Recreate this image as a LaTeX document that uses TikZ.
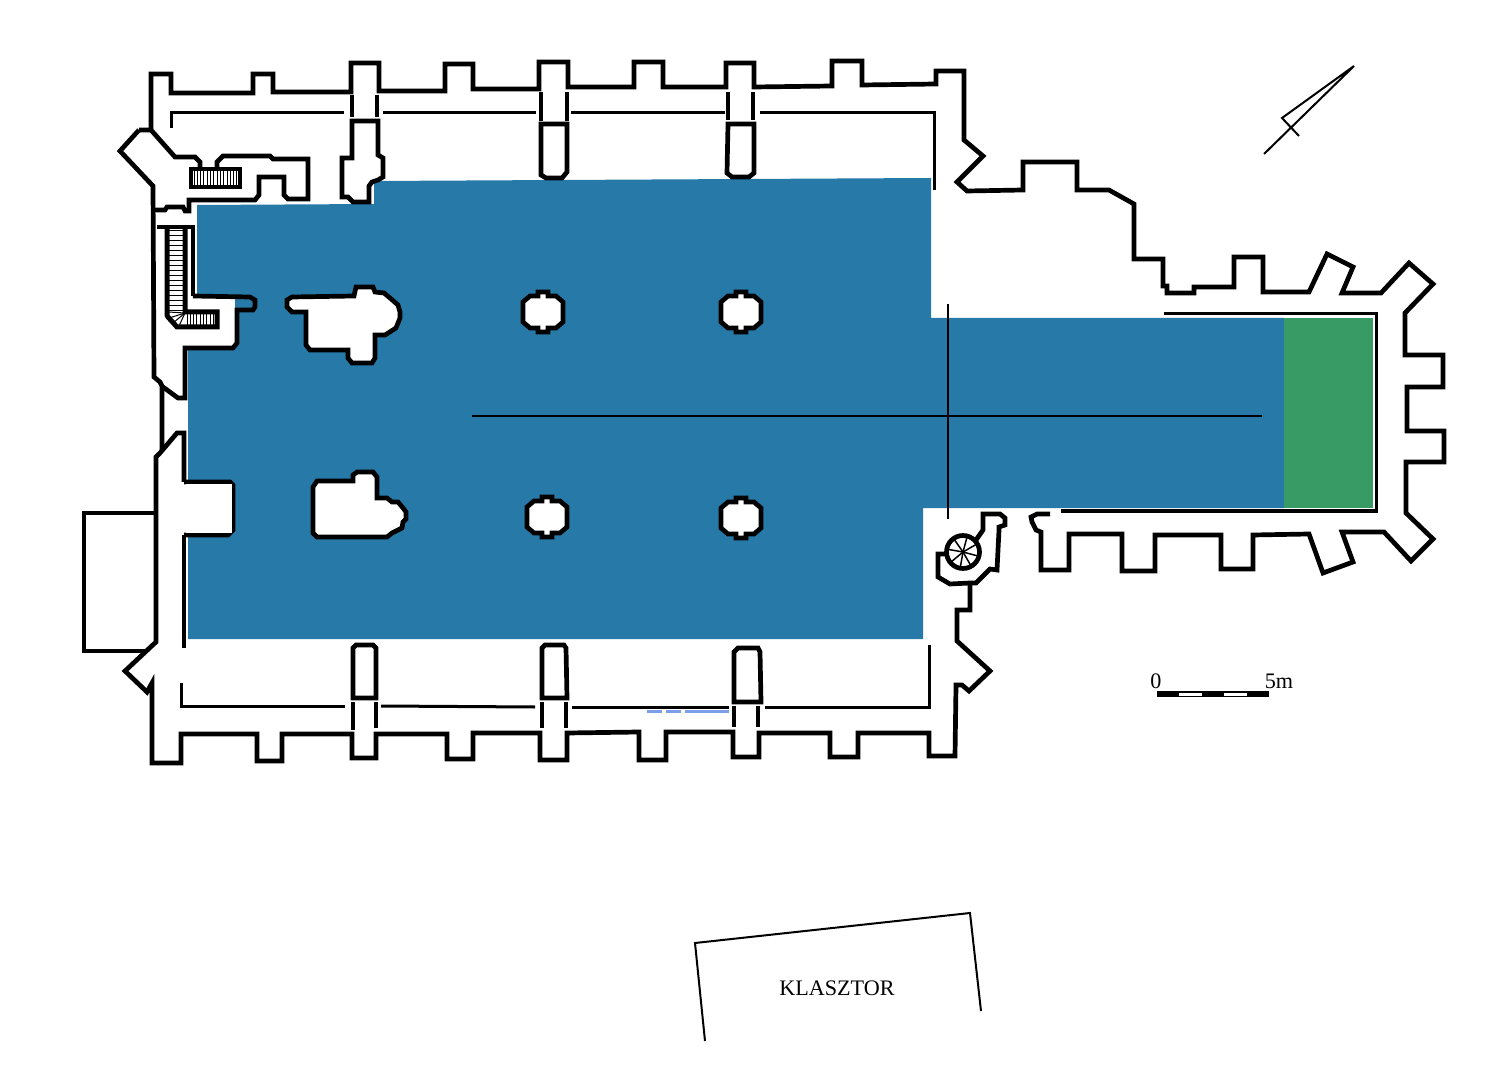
\documentclass[tikz,border=0pt]{standalone}
\usepackage{fontspec}
\setmainfont{Liberation Serif}
\definecolor{navecolor}{HTML}{2779A8}
\definecolor{choircolor}{HTML}{389B66}
\definecolor{dashcolor}{HTML}{7B9FE8}
\tikzset{
	wall/.style={line width=0.47mm,miter limit=6},
	innerwall/.style={line width=0.3mm},
	isle/.style={wall,fill=white},
	hatch/.style={line width=0.1mm},
	planlabel/.style={inner sep=0pt,font=\fontsize{6.3pt}{7pt}\selectfont},
}
\begin{document}
\begin{tikzpicture}[x=0.01cm,y=-0.01cm]
	\useasboundingbox (0,0) rectangle (1500,1067);
	% nave and choir
	\fill[navecolor] (197,205)--(374,204)--(374,181)--(931,178)--(931,318)--(1284,318)--(1284,508)--(923,508)--(923,639)--(188,639)--(188,348)--(197,348)--cycle;
	\fill[choircolor] (1284,318)--(1373,318)--(1373,508)--(1284,508)--cycle;
	% north wall
	\draw[wall] (139,130)--(151,130)--(151,74)--(171,74)--(171,93)--(253,93)--(253,74)--(273,74)--(273,92)--(351,92)--(351,63)--(379,63)--(379,91)--(445,91)--(445,64)--(473,64)--(473,89)--(539,89)--(539,62)--(568,62)--(568,87)--(634,87)--(634,62)--(663,62)--(663,87)--(726,87)--(726,63)--(754,63)--(754,87)--(832,86)--(832,61)--(862,61)--(862,85)--(936,84)--(936,71)--(964,71)--(964,140)--(983,156)--(957,182)--(967,191)--(1023,190)--(1023,162)--(1077,162)--(1077,190)--(1109,190)--(1134,204)--(1134,259)--(1163,259)--(1163,286)--(1167,286)--(1167,293)--(1194,293)--(1194,287)--(1234,287)--(1234,257)--(1263,257)--(1263,292)--(1309,292)--(1327,254)--(1353,267)--(1342,293)--(1381,293)--(1409,263)--(1433,284)--(1405,313)--(1405,355)--(1443,355)--(1443,387)--(1407,387)--(1407,431)--(1444,431)--(1444,462)--(1406,462)--(1406,513)--(1433,539)--(1411,561)--(1384,532)--(1342,532)--(1353,562)--(1323,573)--(1309,534)--(1253,535)--(1253,569)--(1221,569)--(1221,535)--(1155,535)--(1155,571)--(1122,571)--(1122,534)--(1069,534)--(1069,570)--(1041,570)--(1041,532)--(1036,530)--(1032,522)--(1031,517)--(1037,514)--(1050,514);
	% south wall
	\draw[wall] (970,583)--(970,610)--(957,610)--(957,641)--(990,671)--(969,691)--(962,685)--(956,685)--(955,756)--(929,756)--(929,733)--(858,733)--(858,757)--(830,757)--(830,733)--(759,733)--(759,757)--(733,757)--(733,732)--(666,732)--(666,760)--(639,760)--(639,732)--(567,733)--(567,760)--(540,760)--(540,733)--(473,733)--(473,759)--(447,759)--(447,734)--(376,734)--(376,758)--(352,758)--(352,734)--(282,734)--(282,761)--(257,761)--(257,734)--(181,734)--(181,763)--(152,763)--(152,683)--(147,692)--(125,671)--(156,642)--(156,457)--(160,453)--(177,433)--(184,433)--(184,482);
	\draw[wall] (184,535)--(184,648);
	% west porch
	\draw[wall] (156,513)--(84,513)--(84,651)--(145,651);
	% west wall with the stair block
	\draw[wall] (139,130)--(120,151)--(153,186)--(154,377)--(160,382)--(162,386)--(162,450);
	\draw[wall] (151,130)--(175,157)--(195,157)--(200,162)--(200,168);
	\draw[wall] (154,210)--(165,210)--(167,207)--(183,207)--(185,211)--(189,211)--(189,200)--(255,200)--(259,195)--(259,177)--(284,177)--(284,195)--(288,199)--(308,199)--(308,159)--(273,159)--(270,156)--(223,156)--(217,162)--(217,168);
	\draw[wall] (157,227)--(193,227)--(193,296);
	\fill[white] (186,297) rectangle (235,347);
	\draw[wall] (193,296)--(250,297)--(255,300)--(255,307)--(253,310)--(237,310)--(237,343)--(233,348)--(185,348)--(185,398)--(178,398)--(163,387);
	% west pier on the south side
	\draw[isle] (184,482)--(230,482)--(233,485)--(233,530)--(228,535)--(184,535);
	\fill[white] (186,484) rectangle (232,533);
	% upper stair
	\draw[wall,fill=white] (191,169) rectangle (240,187);
	\foreach \hx in {194,197.3,...,238}{
		\draw[hatch] (\hx,170)--(\hx,186);
	}
	% lower stair
	\draw[wall,line width=0.5mm] (185,227)--(185,312)--(217,312)--(217,327)--(177,327)--(168,317)--(167,315)--(167,228);
	\foreach \hy in {231,236,...,311}{
		\draw[hatch] (168,\hy)--(184,\hy);
	}
	\foreach \hx in {187,190.3,...,216}{
		\draw[hatch] (\hx,313)--(\hx,326);
	}
	\foreach \fx/\fy in {168/312,169/318,173/323,179/326}{
		\draw[hatch] (185,313)--(\fx,\fy);
	}
	% inner line of the aisles
	\draw[innerwall] (171,128)--(171,113)--(344,113);
	\draw[innerwall] (383,113)--(536,113);
	\draw[innerwall] (571,113)--(725,113);
	\draw[innerwall] (760,113)--(934,113)--(934,190);
	\draw[innerwall] (181,683)--(181,706)--(345,706);
	\draw[innerwall] (381,706)--(535,707);
	\draw[innerwall] (572,707)--(729,707);
	\draw[innerwall] (765,707)--(929,707)--(929,645);
	\draw[innerwall] (1164,314)--(1376,314)--(1376,511)--(1061,511);
	% openings in the buttresses
	\foreach \ox/\oa/\ob in {352/95/117,377/95/117,541/92/121,567/92/121,728/92/120,753/92/120,353/702/730,376/702/728,542/702/728,566/702/728,734/706/727,758/706/727}{
		\draw[wall] (\ox,\oa)--(\ox,\ob);
	}
	% north side pier boxes
	\draw[isle] (541,124)--(567,124)--(567,172)--(562,178)--(546,178)--(541,175)--cycle;
	\draw[isle] (728,124)--(754,124)--(754,173)--(749,177)--(732,177)--(727,173)--cycle;
	\draw[isle] (352,121)--(378,121)--(378,155)--(383,158)--(383,177)--(378,180)--(372,182)--(369,186)--(369,202)--(353,202)--(348,197)--(342,197)--(342,158)--(352,158)--cycle;
	% south side pier boxes
	\draw[isle] (353,698)--(353,648)--(356,645)--(373,645)--(376,648)--(376,698)--cycle;
	\draw[isle] (542,698)--(542,648)--(545,645)--(564,645)--(566,648)--(567,698)--cycle;
	\draw[isle] (734,702)--(734,652)--(738,648)--(758,648)--(760,652)--(761,702)--cycle;
	% free standing piers
	\draw[isle] (287,300)--(292,297)--(354,296)--(356,287)--(373,287)--(375,292)--(384,293)--(390,298)--(398,305)--(400,312)--(400,318)--(396,328)--(385,335)--(375,335)--(375,358)--(372,363)--(352,363)--(348,358)--(348,350)--(310,350)--(306,345)--(306,312)--(292,312)--(287,307)--cycle;
	\draw[isle] (313,487)--(317,481)--(353,481)--(353,475)--(357,472)--(373,472)--(377,477)--(377,498)--(387,498)--(392,502)--(398,502)--(403,508)--(406,512)--(406,519)--(403,522)--(402,528)--(392,533)--(387,537)--(317,537)--(313,533)--cycle;
	\foreach \cx/\cy in {543/312,741/312,547/517,741/518}{
		\begin{scope}[shift={(\cx,\cy)}]
			\draw[isle] (-20,-10)--(-13,-16)--(-5,-16)--(-5,-20)--(5,-20)--(5,-16)--(13,-16)--(20,-10)--(20,10)--(13,16)--(5,16)--(5,20)--(-5,20)--(-5,16)--(-13,16)--(-20,10)--cycle;
		\end{scope}
	}
	% spiral stair
	\draw[wall] (970,583)--(950,584)--(938,577)--(938,554)--(947,554);
	\draw[wall] (970,583)--(976,583)--(990,569)--(997,570)--(999,530)--(999,527)--(1005,525)--(1005,518)--(1000,514)--(983,514)--(983,530)--(976,540);
	\draw[wall] (963,552) circle [radius=16.5];
	\foreach \sa in {15,60,100,140,190,235,285,330}{
		\draw[hatch,line width=0.15mm] (963,552)--++(\sa:16);
	}
	% axes
	\draw[line width=0.15mm] (472,416)--(1262,416);
	\draw[line width=0.15mm] (948,304)--(948,519);
	% blue dashes
	\draw[dashcolor,innerwall] (647,711)--(662,711);
	\draw[dashcolor,innerwall] (666,711)--(681,711);
	\draw[dashcolor,innerwall] (685,711)--(729,711);
	% north arrow
	\draw[line width=0.2mm] (1264,154)--(1354,66)--(1282,118)--(1299,136);
	% scale bar
	\fill (1157,691) rectangle (1269,697);
	\fill[white] (1179,692.5) rectangle (1202,695.5);
	\fill[white] (1224,692.5) rectangle (1247,695.5);
	\node[planlabel] (scalezero) at (1156,681) {0};
	\node[planlabel] (scalefive) at (1279,681) {5m};
	% cloister
	\draw[line width=0.2mm] (705,1041)--(695,943)--(970,913)--(981,1011);
	\node[planlabel] (cloister) at (837,988) {KLASZTOR};
\end{tikzpicture}
\end{document}
